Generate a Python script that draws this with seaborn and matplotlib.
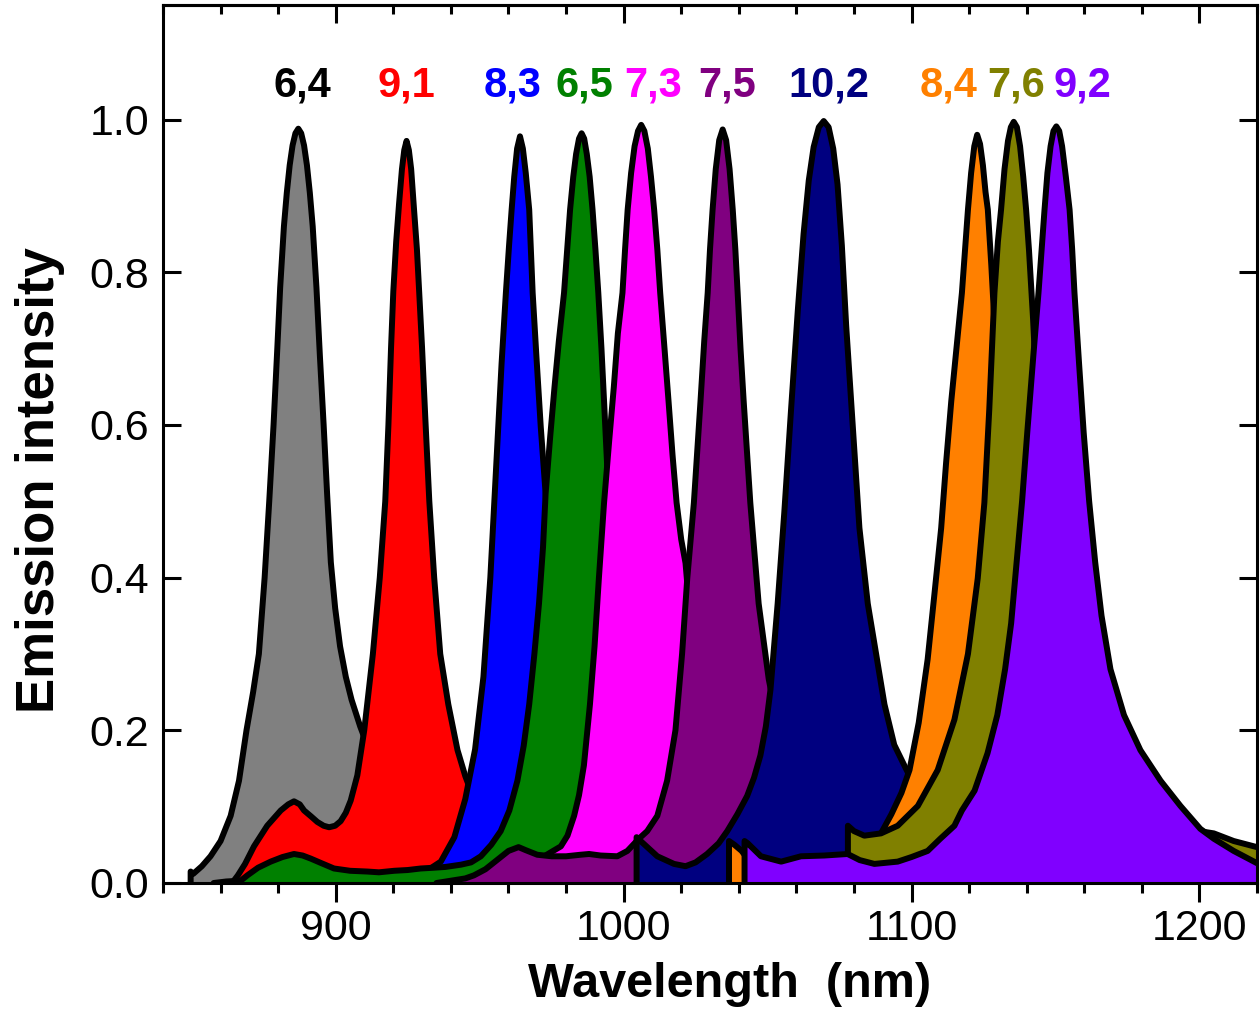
import numpy as np
import pandas as pd
import matplotlib
matplotlib.use("Agg")
import matplotlib.pyplot as plt
import seaborn as sns
from matplotlib.ticker import MultipleLocator, FormatStrFormatter

# ---------------- data ----------------
wl_64 = [849.6, 850.5, 853.5, 856.5, 860.0, 863.5, 866.4, 869.0, 871.3, 873.3, 875.3, 876.9, 878.4,
         879.7, 880.7, 882.0, 883.0, 884.0, 885.0, 886.0, 887.0, 888.0, 889.0, 890.0, 891.0, 892.0,
         893.3, 894.5, 895.8, 897.0, 898.3, 899.8, 901.5, 903.5, 905.5, 908.5, 912.0, 916.0, 922.0,
         930.0, 940.0]
em_64 = [0.015, 0.012, 0.022, 0.035, 0.055, 0.088, 0.134, 0.200, 0.250, 0.300, 0.400, 0.500, 0.600,
         0.700, 0.780, 0.860, 0.904, 0.940, 0.966, 0.982, 0.988, 0.982, 0.966, 0.940, 0.904, 0.860,
         0.780, 0.690, 0.600, 0.510, 0.420, 0.360, 0.310, 0.270, 0.240, 0.205, 0.170, 0.140, 0.100,
         0.060, 0.040]

wl_91 = [864.0, 866.0, 868.5, 871.6, 876.2, 880.9, 883.5, 885.5, 887.5, 889.0, 891.5, 893.6, 895.8,
         897.7, 899.8, 901.7, 903.5, 905.2, 907.5, 909.9, 912.9, 915.3, 917.2, 918.3, 919.2, 920.0,
         921.0, 922.0, 923.0, 923.8, 924.6, 925.4, 926.2, 927.2, 928.2, 929.0, 930.0, 931.1, 932.5,
         934.2, 936.3, 939.1, 942.3, 945.0, 950.0, 960.0]
em_91 = [0.0, 0.010, 0.025, 0.048, 0.075, 0.095, 0.103, 0.107, 0.103, 0.095, 0.087, 0.080, 0.075,
         0.073, 0.075, 0.081, 0.092, 0.108, 0.141, 0.200, 0.300, 0.400, 0.500, 0.600, 0.700, 0.775,
         0.840, 0.890, 0.935, 0.960, 0.972, 0.960, 0.935, 0.882, 0.830, 0.773, 0.700, 0.610, 0.500,
         0.400, 0.300, 0.234, 0.174, 0.140, 0.090, 0.040]

wl_83 = [925.0, 930.0, 936.5, 941.2, 945.0, 948.4, 951.3, 953.7, 956.0, 957.6, 959.1, 960.2, 961.1,
         962.0, 963.0, 964.0, 965.0, 966.0, 967.2, 968.4, 969.7, 971.2, 972.9, 974.7, 977.0, 980.5,
         985.1, 990.9, 1000.0]
em_83 = [0.0, 0.012, 0.028, 0.060, 0.110, 0.175, 0.270, 0.400, 0.565, 0.680, 0.773, 0.835, 0.882,
         0.925, 0.962, 0.978, 0.962, 0.930, 0.882, 0.773, 0.690, 0.598, 0.510, 0.366, 0.234, 0.134,
         0.081, 0.048, 0.030]

wl_65 = [857.6, 862.0, 867.0, 869.3, 873.0, 877.4, 881.5, 885.5, 888.5, 891.3, 895.0, 899.4, 905.0,
         911.0, 915.0, 920.3, 925.0, 929.5, 934.0, 938.0, 943.5, 947.0, 950.4, 954.0, 957.3, 960.3,
         963.1, 965.3, 967.2, 969.0, 970.6, 972.0, 972.9, 974.5, 976.0, 977.5, 979.3, 980.4, 981.4,
         982.5, 983.5, 984.5, 985.4, 986.3, 987.2, 988.2, 989.2, 990.2, 991.2, 992.3, 993.2, 994.9,
         996.6, 999.0, 1002.4, 1007.1, 1015.0, 1025.0]
em_65 = [0.0, 0.002, 0.003, 0.010, 0.020, 0.028, 0.034, 0.038, 0.036, 0.032, 0.026, 0.019, 0.016,
         0.015, 0.014, 0.016, 0.017, 0.019, 0.020, 0.021, 0.024, 0.027, 0.035, 0.050, 0.068, 0.095,
         0.134, 0.180, 0.234, 0.300, 0.366, 0.440, 0.510, 0.585, 0.650, 0.710, 0.773, 0.830, 0.882,
         0.925, 0.955, 0.975, 0.982, 0.975, 0.955, 0.925, 0.882, 0.830, 0.773, 0.700, 0.631, 0.498,
         0.366, 0.234, 0.134, 0.075, 0.045, 0.030]

wl_73 = [955.0, 962.0, 968.0, 972.4, 975.5, 978.2, 980.5, 982.8, 984.5, 986.2, 988.3, 989.9, 991.4,
         993.2, 995.0, 996.6, 998.0, 999.6, 1000.5, 1001.4, 1002.6, 1003.8, 1005.0, 1006.1, 1007.2,
         1008.4, 1009.5, 1010.6, 1011.7, 1012.7, 1014.2, 1015.6, 1017.0, 1018.4, 1020.0, 1021.5,
         1023.5, 1026.0, 1029.0, 1033.0, 1040.0, 1050.0]
em_73 = [0.005, 0.020, 0.030, 0.035, 0.042, 0.048, 0.062, 0.088, 0.115, 0.154, 0.234, 0.310, 0.399,
         0.498, 0.580, 0.650, 0.720, 0.773, 0.830, 0.882, 0.930, 0.965, 0.985, 0.993, 0.985,
         0.962, 0.925, 0.882, 0.830, 0.773, 0.700, 0.631, 0.560, 0.498, 0.450, 0.419,
         0.330, 0.230, 0.150, 0.100, 0.060, 0.035]

wl_75 = [935.0, 940.0, 945.0, 948.0, 952.0, 956.0, 960.0, 963.5, 966.0, 970.0, 975.0, 980.0, 985.0,
         988.0, 992.0, 997.8, 1001.3, 1005.3, 1008.2, 1011.7, 1015.1, 1018.0, 1020.3, 1022.1, 1024.4,
         1026.7, 1028.0, 1029.2, 1030.0, 1030.9, 1032.0, 1033.2, 1034.4, 1035.6, 1036.8, 1037.9,
         1038.8, 1039.6, 1040.6, 1041.7, 1044.0, 1046.9, 1050.4, 1055.0, 1060.0, 1070.0, 1080.0]
em_75 = [0.0, 0.003, 0.006, 0.010, 0.018, 0.030, 0.042, 0.047, 0.043, 0.037, 0.035, 0.035, 0.037,
         0.038, 0.036, 0.035, 0.042, 0.058, 0.068, 0.088, 0.134, 0.200, 0.300, 0.399, 0.498,
         0.631, 0.710, 0.773, 0.830, 0.882, 0.935, 0.973, 0.987, 0.973, 0.935, 0.882,
         0.830, 0.773, 0.700, 0.631, 0.498, 0.366, 0.267, 0.180, 0.120, 0.070, 0.045]

wl_102 = [1004.5, 1005.9, 1011.7, 1017.5, 1021.5, 1025.0, 1029.0, 1033.0, 1036.0, 1039.5, 1042.9,
          1045.3, 1047.5, 1049.4, 1051.0, 1053.5, 1055.8, 1058.1, 1060.5, 1062.5, 1064.3, 1066.0,
          1067.8, 1069.5, 1071.2, 1072.8, 1074.3, 1075.8, 1077.3, 1079.6, 1081.9, 1084.8, 1087.7,
          1090.6, 1094.0, 1097.5, 1102.0, 1108.0, 1115.0, 1125.0]
em_102 = [0.060, 0.055, 0.035, 0.025, 0.022, 0.027, 0.038, 0.052, 0.068, 0.090, 0.114,
          0.138, 0.167, 0.205, 0.253, 0.366, 0.485, 0.617, 0.750, 0.850, 0.920, 0.964,
          0.990, 0.998, 0.990, 0.962, 0.915, 0.835, 0.730, 0.598, 0.465, 0.366, 0.300,
          0.234, 0.181, 0.154, 0.120, 0.085, 0.060, 0.040]

wl_84 = [1036.6, 1038.5, 1041.0, 1045.0, 1055.0, 1065.0, 1075.0, 1082.0, 1086.0, 1089.4, 1093.0,
         1096.5, 1099.3, 1102.5, 1105.6, 1108.0, 1110.3, 1112.0, 1113.8, 1115.6, 1117.5, 1118.6,
         1119.6, 1120.7, 1121.8, 1122.8, 1123.8, 1124.8, 1125.7, 1126.5, 1127.7, 1129.0, 1130.5,
         1133.0, 1137.0, 1142.0, 1150.0, 1160.0]
em_84 = [0.055, 0.050, 0.042, 0.022, 0.020, 0.020, 0.022, 0.030, 0.045, 0.065, 0.090,
         0.118, 0.148, 0.210, 0.293, 0.380, 0.465, 0.550, 0.631, 0.700, 0.773, 0.830,
         0.882, 0.930, 0.965, 0.980, 0.968, 0.940, 0.905, 0.882, 0.810, 0.720, 0.600,
         0.450, 0.250, 0.120, 0.060, 0.030]

wl_76 = [1077.9, 1080.0, 1083.6, 1089.4, 1095.2, 1102.2, 1109.1, 1114.9, 1119.6, 1123.0, 1125.3,
         1127.0, 1128.8, 1130.0, 1131.1, 1132.3, 1133.5, 1134.5, 1135.5, 1136.6, 1137.7, 1138.8,
         1139.8, 1140.8, 1142.2, 1143.5, 1146.0, 1150.0, 1155.0, 1160.0, 1165.0, 1172.0, 1180.0,
         1188.0, 1195.0, 1200.0, 1205.0, 1211.9, 1222.0]
em_76 = [0.075, 0.068, 0.062, 0.065, 0.075, 0.101, 0.148, 0.214, 0.300, 0.399, 0.498,
         0.620, 0.773, 0.840, 0.882, 0.935, 0.972, 0.990, 0.997, 0.990, 0.965, 0.925,
         0.882, 0.829, 0.740, 0.640, 0.450, 0.300, 0.200, 0.160, 0.130, 0.110, 0.095,
         0.082, 0.072, 0.068, 0.065, 0.055, 0.045]

wl_92 = [1042.0, 1043.1, 1047.7, 1054.7, 1061.6, 1069.7, 1077.8, 1082.0, 1087.1, 1095.2, 1100.0,
         1105.6, 1110.0, 1114.9, 1117.5, 1121.9, 1126.4, 1129.8, 1132.5, 1134.6, 1136.5, 1138.4,
         1140.2, 1142.3, 1144.1, 1145.2, 1146.2, 1147.2, 1148.3, 1149.3, 1150.3, 1151.3, 1152.3,
         1153.6, 1154.9, 1155.8, 1156.6, 1158.2, 1159.8, 1161.7, 1163.8, 1166.0, 1169.1, 1173.8,
         1179.5, 1186.5, 1193.4, 1200.3, 1205.0, 1211.9, 1222.0]
em_92 = [0.055, 0.052, 0.035, 0.028, 0.035, 0.036, 0.038, 0.030, 0.025, 0.028, 0.034,
         0.042, 0.058, 0.075, 0.095, 0.121, 0.170, 0.220, 0.280, 0.340, 0.420, 0.500,
         0.590, 0.690, 0.773, 0.830, 0.882, 0.930, 0.965, 0.985, 0.991, 0.985, 0.965,
         0.925, 0.882, 0.830, 0.773, 0.680, 0.590, 0.500, 0.420, 0.350, 0.280, 0.220,
         0.174, 0.134, 0.101, 0.071, 0.058, 0.042, 0.022]

chiralities = ["6,4", "9,1", "8,3", "6,5", "7,3", "7,5", "10,2", "8,4", "7,6", "9,2"]
label_wl = [888.4, 924.7, 961.5, 986.2, 1010.3, 1036.1, 1071.4, 1112.7, 1136.3, 1159.5]
fill_colors = ["#808080", "#FF0000", "#0000FF", "#008000", "#FF00FF", "#800080",
               "#000080", "#FF8000", "#808000", "#8000FF"]
text_colors = ["#000000", "#FF0000", "#0000FF", "#008000", "#FF00FF", "#800080",
               "#000080", "#FF8000", "#808000", "#8000FF"]

series_wl = [wl_64, wl_91, wl_83, wl_65, wl_73, wl_75, wl_102, wl_84, wl_76, wl_92]
series_em = [em_64, em_91, em_83, em_65, em_73, em_75, em_102, em_84, em_76, em_92]

# ---------------- style ----------------
sns.set_style("ticks")
plt.rcParams['font.family'] = ['Liberation Sans', 'DejaVu Sans']
plt.rcParams.update({"text.color": "black", "axes.labelcolor": "black",
                     "xtick.color": "black", "ytick.color": "black",
                     "axes.edgecolor": "black"})

fig = plt.figure(figsize=(12.6, 10.16), dpi=100)
ax = fig.add_axes([163 / 1260, 1 - 883 / 1016, (1257 - 163) / 1260, (883 - 5) / 1016])

for i, (wl, em, fc) in enumerate(zip(series_wl, series_em, fill_colors)):
    x = np.concatenate([[wl[0]], wl, [wl[-1]]])
    y = np.concatenate([[0.0], em, [0.0]])
    ax.fill_between(x, y, 0, color=fc, lw=0, zorder=2 * i + 2)
    df = pd.DataFrame({"wl": x, "em": y})
    sns.lineplot(data=df, x="wl", y="em", sort=False, estimator=None,
                 color="black", lw=4.3, ax=ax, zorder=2 * i + 3,
                 solid_joinstyle="round", solid_capstyle="round")

for lab, lx, tc in zip(chiralities, label_wl, text_colors):
    ax.text(lx, 1.030, lab, color=tc, fontsize=30, fontweight="bold",
            ha="center", va="baseline", zorder=40)

ax.set_xlim(840, 1220)
ax.set_ylim(0, 1.15)
ax.xaxis.set_major_locator(MultipleLocator(100))
ax.xaxis.set_minor_locator(MultipleLocator(20))
ax.yaxis.set_major_locator(MultipleLocator(0.2))
ax.yaxis.set_major_formatter(FormatStrFormatter("%.1f"))

ax.tick_params(axis="x", which="major", direction="out", length=14, width=2.2,
               labelsize=31, pad=5, top=False, colors="black")
ax.tick_params(axis="x", which="minor", direction="out", length=7, width=2.2, top=False,
               colors="black")
ax.tick_params(axis="y", which="major", direction="in", length=13, width=2.2,
               labelsize=31, pad=10, right=True, left=True, colors="black")
ax.tick_params(axis="y", which="minor", left=False, right=False)

sec = ax.secondary_xaxis("top")
sec.xaxis.set_major_locator(MultipleLocator(100))
sec.xaxis.set_minor_locator(MultipleLocator(20))
sec.tick_params(which="major", direction="in", length=13, width=2.2, labeltop=False,
                colors="black")
sec.tick_params(which="minor", direction="in", length=6.5, width=2.2, colors="black")
sec.spines["top"].set_linewidth(2.2)
sec.spines["top"].set_color("black")
sec.set_zorder(60)

for sp in ax.spines.values():
    sp.set_linewidth(2.2)
    sp.set_color("black")
    sp.set_zorder(60)
ax.xaxis.set_zorder(60)
ax.yaxis.set_zorder(60)

ax.set_xlabel("Wavelength  (nm)", fontsize=35, fontweight="bold", va="center", color="black")
ax.xaxis.set_label_coords(0.518, -0.116)
ax.set_ylabel("Emission intensity", fontsize=38, fontweight="bold", va="center", ha="center",
              color="black")
ax.yaxis.set_label_coords(-0.112, 0.459)

fig.savefig("out.png", dpi=100)
